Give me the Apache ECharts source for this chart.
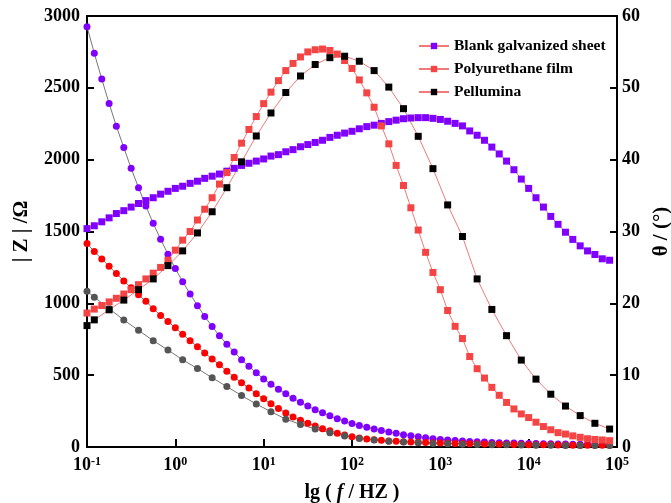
<!DOCTYPE html>
<html>
<head>
<meta charset="utf-8">
<script src="https://cdn.jsdelivr.net/npm/echarts@6/dist/echarts.min.js"></script>
<style>html,body{margin:0;padding:0;background:#fff}#c{width:671px;height:503px}</style>
</head>
<body>
<div id="c"></div>
<script>
// Frequency grid: 12 points per decade, from 0.1 Hz
const DECADES = [0.1, 1, 10, 100, 1000, 10000];
const MANTISSA = [1.00, 1.21, 1.47, 1.78, 2.15, 2.61, 3.16, 3.83, 4.64, 5.62, 6.81, 8.25];
const X_TICKS = [0.1, 1, 10, 100, 1000, 10000, 100000];

// |Z| (Ohm), dense series (72 points)
const blankZ = [2926, 2740, 2561, 2391, 2233, 2084, 1940, 1805, 1677, 1557, 1446, 1342,
  1242, 1151, 1065, 984, 909, 839, 774, 716, 661, 607, 562, 516,
  474, 436, 402, 370, 340, 312, 285, 259, 238, 217, 197, 181,
  163, 149, 137, 126, 114, 105, 96, 86, 79, 72, 65, 58,
  53, 49, 45, 42, 39, 36, 34, 32, 30, 28, 27, 26,
  25, 24, 23, 22, 21, 21, 20, 20, 19, 19, 18, 18];
const polyZ = [1416, 1360, 1309, 1258, 1207, 1156, 1109, 1060, 1014, 963, 916, 874,
  830, 784, 740, 698, 654, 613, 572, 528, 486, 448, 410, 371,
  335, 301, 268, 237, 209, 187, 165, 147, 127, 113, 96, 84,
  72, 63, 56, 51, 47, 42, 40, 37, 35, 33, 31, 29,
  27, 26, 25, 24, 23, 22, 21, 20, 19, 18, 17, 17,
  16, 16, 15, 15, 14, 14, 13, 13, 13, 12, 12, 12];
// sparse series (first point + every other point)
const pellZ = [1084, 1043, 963, 884, 812, 740, 675, 607, 546, 482, 421, 358, 299,
  246, 194, 157, 125, 100, 77, 60, 48, 40, 34, 29, 25, 22, 20, 18, 16, 15, 14, 13, 12, 11, 11, 10, 10];

// theta (degrees)
const blankTheta = [30.4, 30.8, 31.35, 31.9, 32.5, 32.9, 33.4, 33.9, 34.3, 34.7, 35.2, 35.6,
  36.0, 36.3, 36.7, 37.0, 37.4, 37.7, 38.0, 38.4, 38.8, 39.2, 39.5, 39.8,
  40.1, 40.5, 40.7, 41.1, 41.4, 41.8, 42.1, 42.4, 42.7, 43.1, 43.4, 43.7,
  43.95, 44.3, 44.6, 44.8, 45.05, 45.3, 45.5, 45.7, 45.8, 45.85, 45.85, 45.75,
  45.6, 45.35, 45.05, 44.7, 44.0, 43.4, 42.7, 41.75, 40.8, 39.8, 38.6, 37.3,
  36.0, 34.7, 33.4, 32.1, 31.0, 29.9, 28.9, 28.0, 27.3, 26.8, 26.2, 26.0];
const polyTheta = [18.65, 19.2, 19.7, 20.2, 20.7, 21.3, 21.9, 22.6, 23.4, 24.2, 25.0, 26.0,
  27.4, 28.8, 30.0, 31.6, 33.1, 34.7, 36.6, 38.2, 40.3, 42.3, 44.2, 46.0,
  47.8, 49.4, 51.0, 52.4, 53.4, 54.3, 55.0, 55.3, 55.4, 55.2, 54.7, 53.8,
  52.7, 51.1, 49.3, 47.3, 44.7, 42.2, 39.2, 36.4, 33.3, 30.2, 27.1, 24.3,
  21.9, 19.0, 16.8, 15.1, 12.6, 10.9, 9.6, 8.3, 7.2, 6.2, 5.3, 4.6,
  4.1, 3.45, 2.85, 2.4, 2.0, 1.8, 1.55, 1.35, 1.15, 1.05, 0.98, 0.88];
const pellTheta = [16.9, 17.7, 19.1, 20.45, 21.9, 23.4, 25.25, 27.3, 29.8, 32.75, 36.1, 39.7, 43.3,
  46.5, 49.35, 51.65, 53.25, 54.2, 54.4, 53.7, 52.4, 50.1, 47.1, 43.25, 38.75, 33.7,
  29.3, 23.4, 19.15, 15.5, 12.1, 9.45, 7.35, 5.7, 4.37, 3.3, 2.5];

const NAMES = ['Blank galvanized sheet', 'Polyurethane film', 'Pellumina'];

// build frequency lists
const FREQ = [];
DECADES.forEach(d => MANTISSA.forEach(m => FREQ.push(+(d * m).toPrecision(4))));
const FREQ_SPARSE = FREQ.filter((f, i) => i === 0 || i % 2 === 1);
const pairs = (xs, ys) => ys.map((y, i) => [xs[i], y]);

const FONT = 'Liberation Serif';
const chart = echarts.init(document.getElementById('c'), null, {renderer: 'canvas'});

function zSeries(name, xs, ys, color) {
  return {
    name: name, type: 'line', xAxisIndex: 0, yAxisIndex: 0,
    data: pairs(xs, ys), symbol: 'circle', symbolSize: 7,
    itemStyle: {color: color}, lineStyle: {color: '#777', width: 1},
    emphasis: {disabled: true}, z: 2
  };
}
function tSeries(name, xs, ys, color) {
  return {
    name: name, type: 'line', xAxisIndex: 0, yAxisIndex: 1,
    data: pairs(xs, ys), symbol: 'rect', symbolSize: 7,
    itemStyle: {color: color}, lineStyle: {color: '#f07a7a', width: 1},
    emphasis: {disabled: true}, z: 3
  };
}

chart.setOption({
  animation: false,
  backgroundColor: '#fff',
  grid: {left: 87, right: 54, top: 16, bottom: 56, containLabel: false, outerBoundsMode: 'none',
    show: true, borderColor: '#000', borderWidth: 2, backgroundColor: 'transparent'},
  legend: {
    data: NAMES, orient: 'vertical', left: 413, top: 33, itemWidth: 30, itemHeight: 8, itemGap: 7,
    textStyle: {fontFamily: FONT, fontWeight: 'bold', fontSize: 15.5, color: '#000'}
  },
  xAxis: {
    type: 'log', logBase: 10, min: X_TICKS[0], max: X_TICKS[X_TICKS.length - 1], interval: 1,
    name: '{a|lg ( }{i|f}{a| / HZ )}', nameLocation: 'middle', nameGap: 36,
    nameTextStyle: {rich: {
      a: {fontFamily: FONT, fontWeight: 'bold', fontSize: 20, color: '#000'},
      i: {fontFamily: FONT, fontWeight: 'bold', fontStyle: 'italic', fontSize: 20, color: '#000'}
    }},
    axisLine: {show: true, lineStyle: {color: '#000', width: 2}},
    axisTick: {show: true, inside: true, length: 8, lineStyle: {color: '#000', width: 2}},
    minorTick: {show: false},
    splitLine: {show: false},
    axisLabel: {
      margin: 9,
      formatter: v => '{b|10}{s|' + Math.round(Math.log10(v)) + '}',
      rich: {
        b: {fontFamily: FONT, fontWeight: 'bold', fontSize: 18, color: '#000'},
        s: {fontFamily: FONT, fontWeight: 'bold', fontSize: 12, color: '#000', verticalAlign: 'top'}
      }
    }
  },
  yAxis: [{
    type: 'value', min: 0, max: 3000, interval: 500, position: 'left',
    name: '| Z | /Ω', nameLocation: 'middle', nameGap: 55,
    nameTextStyle: {fontFamily: FONT, fontWeight: 'bold', fontSize: 21, color: '#000'},
    axisLine: {show: true, lineStyle: {color: '#000', width: 2}},
    axisTick: {show: true, inside: true, length: 7, lineStyle: {color: '#000', width: 2}},
    splitLine: {show: false},
    axisLabel: {margin: 7, fontFamily: FONT, fontWeight: 'bold', fontSize: 18, color: '#000',
      formatter: v => String(v)}
  }, {
    type: 'value', min: 0, max: 60, interval: 10, position: 'right',
    name: 'θ / (°)', nameLocation: 'middle', nameGap: 31,
    nameTextStyle: {fontFamily: FONT, fontWeight: 'bold', fontSize: 21, color: '#000'},
    axisLine: {show: true, lineStyle: {color: '#000', width: 2}},
    axisTick: {show: true, inside: true, length: 7, lineStyle: {color: '#000', width: 2}},
    splitLine: {show: false},
    axisLabel: {margin: 5, fontFamily: FONT, fontWeight: 'bold', fontSize: 18, color: '#000',
      formatter: v => String(v)}
  }],
  series: [
    zSeries('|Z| ' + NAMES[0], FREQ, blankZ, '#8000ff'),
    zSeries('|Z| ' + NAMES[1], FREQ, polyZ, '#ff0000'),
    zSeries('|Z| ' + NAMES[2], FREQ_SPARSE, pellZ, '#555555'),
    tSeries(NAMES[0], FREQ, blankTheta, '#8000ff'),
    tSeries(NAMES[1], FREQ, polyTheta, '#f54444'),
    tSeries(NAMES[2], FREQ_SPARSE, pellTheta, '#000000')
  ]
});
</script>
</body>
</html>
